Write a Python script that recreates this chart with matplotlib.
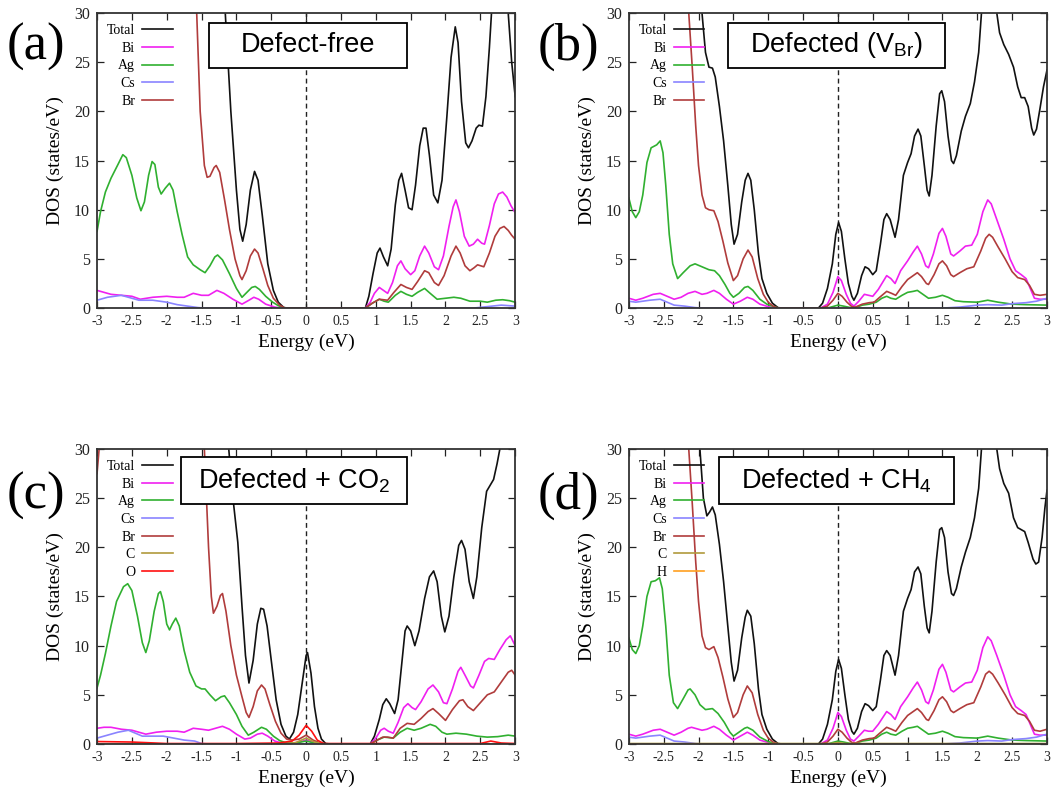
import matplotlib
matplotlib.use("Agg")
import matplotlib.pyplot as plt
from matplotlib.patches import Rectangle
from matplotlib.ticker import MultipleLocator, FuncFormatter

plt.rcParams['font.family'] = ['Liberation Serif', 'DejaVu Serif']
plt.rcParams['axes.unicode_minus'] = False
plt.rcParams['mathtext.fontset'] = 'custom'
plt.rcParams['mathtext.rm'] = 'Liberation Sans'

# (energy eV, DOS states/eV); >30 means off the top of the axes
A_TOTAL = [(-3.0, 60), (-1.3, 45), (-1.16, 30), (-1.08, 20), (-1.0, 12), (-0.95, 8.0), (-0.91, 6.8), (-0.86, 8.5),
           (-0.8, 12.0), (-0.74, 13.9), (-0.69, 13.0), (-0.63, 9.5), (-0.55, 4.5), (-0.47, 1.8), (-0.4, 0.6),
           (-0.32, 0.05), (-0.25, 0.0), (0.85, 0.0), (0.9, 1.2), (0.96, 3.5), (1.02, 5.6), (1.06, 6.1), (1.11, 5.2),
           (1.17, 4.3), (1.22, 6.0), (1.28, 10.5), (1.33, 13.0), (1.37, 13.7), (1.42, 12.0), (1.47, 10.2),
           (1.52, 10.0), (1.57, 12.5), (1.63, 16.5), (1.68, 18.3), (1.72, 18.3), (1.77, 15.5), (1.83, 11.5),
           (1.89, 10.7), (1.95, 13.0), (2.02, 19.5), (2.08, 25.5), (2.14, 28.6), (2.18, 27.0), (2.23, 21.0),
           (2.29, 16.8), (2.33, 16.3), (2.38, 17.0), (2.44, 18.3), (2.48, 18.6), (2.53, 18.5), (2.58, 21.5),
           (2.63, 26.5), (2.66, 30.0), (2.72, 38), (2.85, 38), (2.9, 30.0), (2.95, 25.0), (3.0, 21.5)]
A_BI = [(-3.0, 1.8), (-2.9, 1.6), (-2.8, 1.4), (-2.65, 1.3), (-2.5, 1.2), (-2.38, 0.9), (-2.2, 1.1), (-2.0, 1.2),
        (-1.85, 1.1), (-1.75, 1.1), (-1.62, 1.5), (-1.5, 1.3), (-1.4, 1.3), (-1.28, 1.8), (-1.18, 1.5),
        (-1.05, 0.9), (-0.92, 0.4), (-0.82, 0.8), (-0.75, 1.1), (-0.68, 0.9), (-0.58, 0.4), (-0.45, 0.1),
        (-0.35, 0.0), (0.85, 0.0), (0.92, 0.6), (0.98, 1.5), (1.05, 2.1), (1.11, 1.8), (1.17, 1.5), (1.24, 2.6),
        (1.31, 4.3), (1.36, 4.8), (1.42, 4.0), (1.5, 3.4), (1.56, 3.8), (1.63, 5.3), (1.7, 6.3), (1.76, 5.6),
        (1.84, 4.2), (1.9, 3.9), (1.97, 5.3), (2.05, 8.3), (2.11, 10.3), (2.15, 11.0), (2.2, 9.8), (2.27, 7.3),
        (2.34, 6.3), (2.4, 6.5), (2.46, 7.0), (2.52, 6.6), (2.56, 6.5), (2.63, 8.4), (2.7, 10.6), (2.76, 11.6),
        (2.82, 11.8), (2.88, 11.3), (2.94, 10.4), (3.0, 9.7)]
A_AG = [(-3.0, 7.8), (-2.95, 9.8), (-2.88, 11.8), (-2.8, 13.2), (-2.7, 14.6), (-2.63, 15.6), (-2.58, 15.3),
        (-2.5, 13.5), (-2.43, 11.2), (-2.37, 9.9), (-2.32, 10.8), (-2.26, 13.5), (-2.21, 14.9), (-2.17, 14.6),
        (-2.12, 12.3), (-2.08, 11.6), (-2.02, 12.2), (-1.96, 12.7), (-1.91, 12.0), (-1.85, 9.8), (-1.78, 7.5),
        (-1.7, 5.2), (-1.62, 4.4), (-1.52, 3.9), (-1.45, 3.6), (-1.38, 4.3), (-1.31, 5.2), (-1.27, 5.4),
        (-1.2, 4.9), (-1.1, 3.5), (-1.0, 2.0), (-0.92, 1.1), (-0.85, 1.6), (-0.78, 2.1), (-0.73, 2.2),
        (-0.67, 1.9), (-0.58, 1.2), (-0.48, 0.6), (-0.4, 0.25), (-0.3, 0.0), (0.85, 0.0), (0.95, 0.5),
        (1.05, 0.9), (1.12, 0.7), (1.18, 0.6), (1.28, 1.3), (1.36, 1.7), (1.44, 1.4), (1.52, 1.2), (1.6, 1.6),
        (1.7, 2.0), (1.78, 1.5), (1.88, 0.9), (2.0, 1.0), (2.12, 1.1), (2.22, 1.0), (2.35, 0.7), (2.5, 0.7),
        (2.6, 0.6), (2.72, 0.8), (2.82, 0.85), (2.92, 0.75), (3.0, 0.6)]
A_CS = [(-3.0, 0.8), (-2.85, 1.1), (-2.65, 1.3), (-2.5, 1.0), (-2.4, 0.8), (-2.2, 0.8), (-2.0, 0.6), (-1.85, 0.35),
        (-1.7, 0.2), (-1.55, 0.05), (-1.45, 0.0), (2.4, 0.0), (2.6, 0.15), (2.8, 0.3), (3.0, 0.2)]
A_BR = [(-3.0, 60), (-1.6, 40), (-1.57, 30), (-1.52, 20), (-1.46, 14.5), (-1.42, 13.3), (-1.38, 13.4),
        (-1.32, 14.3), (-1.29, 14.5), (-1.24, 13.8), (-1.17, 11.0), (-1.1, 8.0), (-1.02, 5.0), (-0.95, 3.3),
        (-0.92, 2.9), (-0.86, 3.8), (-0.8, 5.3), (-0.74, 6.0), (-0.69, 5.6), (-0.62, 4.0), (-0.55, 2.3),
        (-0.47, 1.0), (-0.38, 0.3), (-0.3, 0.0), (0.85, 0.0), (0.95, 0.5), (1.05, 0.9), (1.17, 0.8), (1.26, 1.6),
        (1.36, 2.4), (1.44, 2.1), (1.52, 1.9), (1.6, 2.7), (1.7, 3.8), (1.76, 3.6), (1.84, 2.6), (1.9, 2.3),
        (1.98, 3.3), (2.08, 5.3), (2.15, 6.3), (2.21, 5.6), (2.28, 4.3), (2.35, 3.8), (2.41, 4.1), (2.46, 4.4),
        (2.55, 4.2), (2.63, 5.6), (2.71, 7.3), (2.78, 8.1), (2.84, 8.3), (2.9, 7.9), (2.95, 7.4), (3.0, 7.0)]

B_TOTAL = [(-3.0, 60), (-2.0, 40), (-1.95, 30), (-1.9, 26.0), (-1.85, 24.5), (-1.8, 24.4), (-1.76, 23.5),
           (-1.7, 20.5), (-1.64, 17.0), (-1.58, 12.5), (-1.53, 8.5), (-1.49, 6.5), (-1.44, 7.5), (-1.38, 10.8),
           (-1.33, 13.0), (-1.29, 13.7), (-1.25, 13.0), (-1.2, 10.0), (-1.14, 5.5), (-1.09, 3.0), (-1.02, 1.5),
           (-0.94, 0.5), (-0.86, 0.05), (-0.8, 0.0), (-0.28, 0.0), (-0.22, 0.5), (-0.15, 2.0), (-0.08, 4.5),
           (-0.03, 7.5), (0.01, 8.7), (0.05, 7.8), (0.1, 5.0), (0.15, 2.5), (0.2, 1.2), (0.23, 0.8), (0.28, 1.5),
           (0.34, 3.3), (0.39, 4.2), (0.44, 4.0), (0.5, 3.4), (0.55, 3.8), (0.61, 6.5), (0.66, 9.0), (0.7, 9.6),
           (0.75, 9.0), (0.82, 7.2), (0.87, 9.0), (0.94, 13.5), (1.0, 14.8), (1.05, 15.7), (1.1, 17.5),
           (1.15, 18.2), (1.19, 17.5), (1.24, 14.5), (1.28, 12.0), (1.31, 11.4), (1.35, 13.5), (1.41, 18.5),
           (1.46, 21.8), (1.49, 22.1), (1.53, 21.0), (1.58, 17.5), (1.63, 15.0), (1.66, 14.7), (1.7, 15.5),
           (1.77, 18.0), (1.83, 19.5), (1.9, 20.8), (1.96, 23.0), (2.02, 26.0), (2.06, 30.0), (2.1, 36),
           (2.22, 38), (2.28, 30.0), (2.32, 28.0), (2.38, 26.8), (2.45, 25.8), (2.52, 24.5), (2.58, 22.5),
           (2.63, 21.4), (2.68, 21.4), (2.73, 20.5), (2.78, 18.3), (2.81, 17.6), (2.85, 18.2), (2.9, 20.3),
           (2.95, 22.5), (3.0, 24.2)]
B_BI = [(-3.0, 1.0), (-2.9, 0.8), (-2.8, 1.0), (-2.65, 1.4), (-2.55, 1.5), (-2.45, 1.2), (-2.35, 0.9),
        (-2.25, 1.1), (-2.15, 1.5), (-2.05, 1.7), (-1.95, 1.4), (-1.88, 1.5), (-1.78, 1.8), (-1.7, 1.5),
        (-1.6, 0.9), (-1.5, 0.4), (-1.4, 0.7), (-1.3, 1.1), (-1.22, 0.9), (-1.12, 0.4), (-1.0, 0.15), (-0.9, 0.0),
        (-0.25, 0.0), (-0.15, 0.4), (-0.07, 1.6), (0.0, 3.2), (0.05, 2.8), (0.12, 1.4), (0.18, 0.5), (0.23, 0.2),
        (0.3, 0.7), (0.38, 1.4), (0.44, 1.3), (0.5, 1.2), (0.58, 1.9), (0.7, 3.3), (0.76, 3.0), (0.82, 2.5),
        (0.9, 3.8), (1.0, 4.8), (1.08, 5.7), (1.14, 6.3), (1.2, 5.5), (1.26, 4.3), (1.3, 4.1), (1.37, 5.5),
        (1.45, 7.6), (1.5, 8.1), (1.55, 7.3), (1.62, 5.5), (1.66, 5.3), (1.75, 5.8), (1.83, 6.3), (1.92, 6.4),
        (2.0, 7.5), (2.08, 9.8), (2.15, 11.0), (2.2, 10.6), (2.28, 9.0), (2.38, 7.0), (2.47, 5.0), (2.55, 3.8),
        (2.63, 3.4), (2.7, 3.0), (2.76, 2.0), (2.82, 1.0), (2.9, 0.9), (3.0, 0.9)]
B_AG = [(-3.0, 11.2), (-2.95, 9.8), (-2.9, 9.2), (-2.85, 9.8), (-2.8, 11.5), (-2.74, 14.8), (-2.68, 16.3),
        (-2.6, 16.6), (-2.55, 17.0), (-2.51, 15.8), (-2.47, 12.5), (-2.42, 7.5), (-2.37, 4.5), (-2.3, 3.0),
        (-2.22, 3.6), (-2.12, 4.3), (-2.05, 4.5), (-1.95, 4.2), (-1.85, 3.9), (-1.77, 3.8), (-1.7, 3.3),
        (-1.62, 2.4), (-1.55, 1.5), (-1.5, 1.1), (-1.42, 1.5), (-1.34, 2.1), (-1.29, 2.2), (-1.22, 1.8),
        (-1.12, 0.9), (-1.02, 0.4), (-0.9, 0.1), (-0.85, 0.0), (-0.15, 0.0), (-0.05, 0.2), (0.0, 0.3),
        (0.08, 0.2), (0.18, 0.05), (0.25, 0.05), (0.35, 0.3), (0.45, 0.4), (0.55, 0.6), (0.63, 1.0), (0.7, 1.2),
        (0.76, 1.0), (0.83, 0.9), (0.92, 1.3), (1.0, 1.6), (1.08, 1.7), (1.14, 1.8), (1.2, 1.5), (1.3, 1.0),
        (1.4, 1.1), (1.5, 1.3), (1.58, 1.1), (1.68, 0.75), (1.8, 0.65), (2.0, 0.6), (2.15, 0.8), (2.3, 0.6),
        (2.5, 0.4), (2.7, 0.35), (3.0, 0.3)]
B_CS = [(-3.0, 0.7), (-2.9, 0.6), (-2.7, 0.8), (-2.55, 0.9), (-2.45, 0.6), (-2.35, 0.3), (-2.2, 0.2),
        (-2.05, 0.05), (-1.95, 0.0), (1.5, 0.0), (1.75, 0.1), (2.0, 0.3), (2.15, 0.35), (2.35, 0.3), (2.5, 0.45),
        (2.7, 0.55), (2.85, 0.7), (3.0, 1.0)]
B_BR = [(-3.0, 60), (-2.2, 40), (-2.14, 30), (-2.09, 24.5), (-2.04, 18.5), (-2.0, 14.5), (-1.95, 11.5),
        (-1.9, 10.2), (-1.85, 10.0), (-1.78, 9.9), (-1.72, 8.8), (-1.65, 6.8), (-1.58, 4.6), (-1.5, 2.8),
        (-1.44, 3.3), (-1.36, 5.0), (-1.29, 5.9), (-1.23, 5.2), (-1.15, 3.0), (-1.07, 1.4), (-1.0, 0.6),
        (-0.92, 0.15), (-0.85, 0.0), (-0.25, 0.0), (-0.15, 0.2), (-0.07, 0.8), (0.0, 1.5), (0.06, 1.2),
        (0.13, 0.6), (0.2, 0.15), (0.25, 0.1), (0.35, 0.4), (0.45, 0.55), (0.52, 0.6), (0.6, 1.1), (0.7, 1.7),
        (0.77, 1.5), (0.83, 1.3), (0.92, 2.2), (1.0, 2.9), (1.08, 3.3), (1.14, 3.6), (1.2, 3.2), (1.27, 2.5),
        (1.3, 2.4), (1.38, 3.4), (1.45, 4.5), (1.5, 4.8), (1.56, 4.3), (1.62, 3.4), (1.66, 3.2), (1.75, 3.6),
        (1.85, 4.0), (1.95, 4.2), (2.05, 5.8), (2.12, 7.1), (2.17, 7.5), (2.22, 7.2), (2.3, 6.2), (2.4, 5.0),
        (2.5, 3.7), (2.58, 3.1), (2.68, 2.9), (2.75, 2.3), (2.82, 1.4), (2.9, 1.3), (3.0, 1.4)]

C_TOTAL = [(-3.0, 60), (-1.2, 45), (-1.11, 30), (-1.05, 25.0), (-0.98, 20.5), (-0.92, 14.0), (-0.87, 9.0),
           (-0.82, 6.2), (-0.76, 8.5), (-0.7, 12.2), (-0.65, 13.8), (-0.61, 13.7), (-0.56, 12.0), (-0.5, 8.5),
           (-0.43, 4.5), (-0.36, 2.0), (-0.29, 0.8), (-0.24, 0.5), (-0.18, 1.2), (-0.12, 3.0), (-0.06, 6.0),
           (0.0, 9.0), (0.02, 9.3), (0.07, 7.2), (0.12, 3.8), (0.17, 1.6), (0.22, 0.5), (0.28, 0.05), (0.35, 0.0),
           (0.92, 0.0), (0.98, 0.8), (1.05, 2.5), (1.1, 4.0), (1.15, 4.6), (1.2, 4.1), (1.27, 3.1), (1.32, 4.5),
           (1.37, 8.0), (1.42, 11.5), (1.45, 12.0), (1.5, 11.5), (1.56, 10.0), (1.62, 11.5), (1.7, 14.8),
           (1.77, 17.0), (1.83, 17.6), (1.88, 16.5), (1.94, 13.0), (1.99, 11.4), (2.05, 13.0), (2.12, 17.0),
           (2.19, 20.2), (2.23, 20.7), (2.28, 19.8), (2.34, 16.5), (2.4, 14.8), (2.45, 17.0), (2.52, 22.0),
           (2.59, 25.7), (2.64, 26.3), (2.69, 26.9), (2.74, 28.5), (2.78, 30.0), (2.85, 34), (3.0, 40)]
C_BI = [(-3.0, 1.6), (-2.9, 1.7), (-2.8, 1.7), (-2.65, 1.5), (-2.5, 1.4), (-2.4, 1.2), (-2.3, 1.0), (-2.15, 1.2),
        (-2.0, 1.3), (-1.85, 1.3), (-1.75, 1.2), (-1.62, 1.6), (-1.5, 1.5), (-1.4, 1.4), (-1.3, 1.6), (-1.2, 1.8),
        (-1.1, 1.5), (-1.0, 1.0), (-0.88, 0.5), (-0.8, 0.6), (-0.7, 1.0), (-0.63, 1.1), (-0.55, 0.8),
        (-0.45, 0.3), (-0.35, 0.1), (-0.25, 0.05), (-0.12, 0.15), (0.0, 0.4), (0.12, 0.15), (0.25, 0.0),
        (0.92, 0.0), (1.0, 0.6), (1.07, 1.4), (1.12, 1.6), (1.18, 1.3), (1.25, 1.1), (1.32, 2.2), (1.4, 3.7),
        (1.46, 4.1), (1.52, 3.7), (1.57, 3.5), (1.65, 4.3), (1.75, 5.6), (1.82, 6.0), (1.9, 5.3), (1.97, 4.2),
        (2.02, 4.1), (2.1, 5.6), (2.18, 7.4), (2.22, 7.8), (2.28, 7.0), (2.36, 5.9), (2.4, 5.7), (2.48, 7.0),
        (2.56, 8.4), (2.62, 8.7), (2.7, 8.6), (2.78, 9.6), (2.87, 10.6), (2.93, 11.0), (3.0, 10.0)]
C_AG = [(-3.0, 5.7), (-2.95, 7.0), (-2.88, 9.2), (-2.8, 12.0), (-2.72, 14.5), (-2.62, 16.0), (-2.56, 16.3),
        (-2.5, 15.6), (-2.42, 13.0), (-2.35, 10.3), (-2.3, 9.3), (-2.25, 10.5), (-2.18, 13.5), (-2.12, 15.3),
        (-2.09, 15.5), (-2.05, 14.5), (-2.0, 12.2), (-1.96, 11.6), (-1.92, 12.2), (-1.87, 12.8), (-1.82, 12.0),
        (-1.75, 9.5), (-1.67, 7.3), (-1.58, 5.9), (-1.5, 5.6), (-1.45, 5.6), (-1.38, 5.0), (-1.3, 4.4),
        (-1.22, 4.8), (-1.17, 4.9), (-1.1, 4.2), (-1.0, 3.0), (-0.92, 1.8), (-0.83, 0.9), (-0.75, 1.2),
        (-0.64, 1.7), (-0.57, 1.5), (-0.47, 0.8), (-0.38, 0.35), (-0.28, 0.1), (-0.15, 0.1), (0.0, 0.3),
        (0.12, 0.1), (0.25, 0.0), (0.92, 0.0), (1.02, 0.4), (1.12, 0.7), (1.25, 0.6), (1.35, 1.2), (1.45, 1.6),
        (1.55, 1.4), (1.65, 1.6), (1.78, 2.0), (1.86, 1.8), (1.95, 1.2), (2.02, 1.0), (2.15, 1.1), (2.3, 1.0),
        (2.45, 0.8), (2.6, 0.7), (2.75, 0.75), (2.9, 0.9), (3.0, 0.8)]
C_CS = [(-3.0, 0.6), (-2.85, 0.9), (-2.7, 1.2), (-2.55, 1.4), (-2.45, 1.1), (-2.35, 0.8), (-2.2, 0.8),
        (-2.05, 0.8), (-1.9, 0.6), (-1.75, 0.4), (-1.6, 0.3), (-1.5, 0.05), (-1.4, 0.0), (3.0, 0.0)]
C_BR = [(-3.0, 27.5), (-2.97, 30.0), (-2.9, 40), (-1.6, 40), (-1.46, 30.0), (-1.4, 20.0), (-1.36, 15.0),
        (-1.33, 13.3), (-1.28, 14.0), (-1.23, 15.1), (-1.2, 15.3), (-1.15, 13.5), (-1.08, 10.0), (-1.0, 7.0),
        (-0.92, 4.8), (-0.86, 3.2), (-0.82, 2.7), (-0.76, 3.8), (-0.7, 5.4), (-0.64, 6.0), (-0.59, 5.6),
        (-0.52, 4.0), (-0.44, 2.3), (-0.36, 1.1), (-0.28, 0.5), (-0.2, 0.4), (-0.1, 0.5), (0.0, 0.9), (0.1, 0.4),
        (0.2, 0.1), (0.3, 0.0), (0.92, 0.0), (1.02, 0.4), (1.1, 0.7), (1.17, 0.7), (1.25, 0.6), (1.35, 1.6),
        (1.45, 2.1), (1.55, 2.0), (1.65, 2.6), (1.75, 3.3), (1.82, 3.6), (1.9, 3.1), (2.0, 2.4), (2.1, 3.5),
        (2.2, 4.4), (2.25, 4.5), (2.32, 3.8), (2.4, 3.4), (2.5, 4.2), (2.6, 5.0), (2.7, 5.3), (2.8, 6.3),
        (2.9, 7.3), (2.95, 7.5), (3.0, 7.0)]
C_C = [(-3.0, 0.0), (-0.3, 0.0), (-0.15, 0.15), (0.0, 0.6), (0.12, 0.2), (0.25, 0.0), (3.0, 0.0)]
C_O = [(-3.0, 0.25), (-2.5, 0.2), (-2.0, 0.05), (-1.0, 0.05), (-0.4, 0.1), (-0.2, 0.3), (-0.1, 0.9), (0.0, 1.9),
       (0.08, 1.3), (0.16, 0.4), (0.25, 0.05), (2.5, 0.05), (2.65, 0.3), (2.8, 0.1), (3.0, 0.05)]

D_TOTAL = [(-3.0, 60), (-2.05, 40), (-1.98, 30.0), (-1.93, 25.0), (-1.88, 23.2), (-1.84, 23.6), (-1.8, 24.1),
           (-1.76, 23.3), (-1.7, 20.3), (-1.64, 16.5), (-1.58, 12.0), (-1.53, 8.3), (-1.49, 6.4), (-1.44, 7.5),
           (-1.38, 10.8), (-1.33, 12.9), (-1.3, 13.6), (-1.25, 13.0), (-1.2, 10.2), (-1.14, 5.6), (-1.09, 3.0),
           (-1.02, 1.5), (-0.94, 0.5), (-0.86, 0.05), (-0.8, 0.0), (-0.28, 0.0), (-0.22, 0.5), (-0.15, 2.0),
           (-0.08, 4.5), (-0.03, 7.4), (0.01, 8.6), (0.05, 7.7), (0.1, 5.0), (0.15, 2.5), (0.2, 1.3), (0.23, 1.0),
           (0.28, 1.6), (0.34, 3.3), (0.39, 4.1), (0.44, 3.9), (0.5, 3.4), (0.55, 3.8), (0.61, 6.5), (0.66, 9.0),
           (0.7, 9.5), (0.75, 9.0), (0.82, 7.0), (0.87, 9.0), (0.94, 13.5), (1.0, 14.8), (1.05, 15.7),
           (1.1, 17.5), (1.15, 18.0), (1.19, 17.3), (1.24, 14.0), (1.28, 11.8), (1.31, 11.3), (1.35, 13.5),
           (1.41, 18.5), (1.46, 21.8), (1.49, 22.0), (1.53, 21.0), (1.58, 17.5), (1.63, 15.3), (1.66, 15.1),
           (1.7, 15.8), (1.77, 18.0), (1.83, 19.5), (1.9, 21.0), (1.96, 23.0), (2.02, 26.0), (2.06, 30.0),
           (2.1, 36), (2.24, 38), (2.28, 30.0), (2.32, 28.0), (2.38, 26.5), (2.45, 25.5), (2.52, 23.0),
           (2.58, 22.0), (2.63, 21.8), (2.68, 21.6), (2.73, 20.5), (2.8, 18.8), (2.84, 18.3), (2.88, 18.5),
           (2.93, 21.0), (2.97, 24.0), (3.0, 25.8)]
D_BI = [(-3.0, 1.0), (-2.9, 0.8), (-2.8, 1.0), (-2.65, 1.4), (-2.55, 1.5), (-2.45, 1.2), (-2.35, 0.9),
        (-2.25, 1.2), (-2.15, 1.6), (-2.1, 1.7), (-1.95, 1.4), (-1.88, 1.5), (-1.78, 1.8), (-1.7, 1.5),
        (-1.6, 0.9), (-1.5, 0.4), (-1.4, 0.8), (-1.3, 1.2), (-1.22, 0.9), (-1.12, 0.4), (-1.0, 0.15), (-0.9, 0.0),
        (-0.25, 0.0), (-0.15, 0.4), (-0.07, 1.6), (0.0, 3.2), (0.05, 2.8), (0.12, 1.4), (0.18, 0.5), (0.23, 0.3),
        (0.3, 0.8), (0.38, 1.4), (0.44, 1.3), (0.5, 1.3), (0.58, 2.0), (0.7, 3.3), (0.76, 3.0), (0.82, 2.5),
        (0.9, 3.8), (1.0, 4.8), (1.08, 5.7), (1.14, 6.3), (1.2, 5.5), (1.26, 4.3), (1.3, 4.1), (1.37, 5.5),
        (1.45, 7.6), (1.5, 8.1), (1.55, 7.3), (1.62, 5.5), (1.66, 5.3), (1.75, 5.8), (1.83, 6.2), (1.92, 6.3),
        (2.0, 7.5), (2.08, 9.8), (2.15, 10.9), (2.2, 10.5), (2.28, 9.0), (2.38, 7.0), (2.47, 5.0), (2.55, 3.8),
        (2.63, 3.4), (2.7, 3.0), (2.76, 2.0), (2.82, 1.0), (2.9, 0.9), (3.0, 0.9)]
D_AG = [(-3.0, 10.8), (-2.95, 9.6), (-2.9, 9.2), (-2.85, 10.0), (-2.8, 12.0), (-2.74, 15.0), (-2.68, 16.5),
        (-2.62, 16.6), (-2.56, 16.9), (-2.52, 15.8), (-2.47, 12.0), (-2.42, 7.0), (-2.36, 4.2), (-2.3, 3.6),
        (-2.22, 4.6), (-2.15, 5.5), (-2.12, 5.6), (-2.05, 5.0), (-1.98, 4.0), (-1.9, 3.5), (-1.8, 3.6),
        (-1.72, 3.1), (-1.63, 2.2), (-1.55, 1.2), (-1.5, 0.8), (-1.42, 1.2), (-1.34, 1.6), (-1.3, 1.7),
        (-1.22, 1.4), (-1.12, 0.7), (-1.0, 0.25), (-0.9, 0.05), (-0.85, 0.0), (-0.15, 0.0), (-0.05, 0.2),
        (0.0, 0.3), (0.08, 0.2), (0.18, 0.05), (0.25, 0.05), (0.35, 0.3), (0.45, 0.4), (0.55, 0.6), (0.63, 1.0),
        (0.7, 1.2), (0.76, 1.0), (0.83, 0.9), (0.92, 1.3), (1.0, 1.6), (1.08, 1.7), (1.14, 1.8), (1.2, 1.5),
        (1.3, 1.0), (1.4, 1.1), (1.5, 1.3), (1.58, 1.1), (1.68, 0.75), (1.8, 0.65), (2.0, 0.6), (2.15, 0.8),
        (2.3, 0.6), (2.5, 0.4), (2.7, 0.35), (3.0, 0.3)]
D_CS = [(-3.0, 0.7), (-2.9, 0.6), (-2.7, 0.8), (-2.55, 0.9), (-2.45, 0.6), (-2.35, 0.3), (-2.2, 0.2),
        (-2.05, 0.05), (-1.95, 0.0), (1.5, 0.0), (1.75, 0.1), (2.0, 0.3), (2.15, 0.35), (2.35, 0.3), (2.5, 0.45),
        (2.7, 0.55), (2.85, 0.7), (3.0, 1.0)]
D_BR = [(-3.0, 60), (-2.2, 40), (-2.14, 30), (-2.09, 24.5), (-2.04, 18.5), (-2.0, 14.5), (-1.95, 11.0),
        (-1.9, 9.8), (-1.85, 9.6), (-1.78, 9.9), (-1.72, 8.8), (-1.65, 6.8), (-1.58, 4.6), (-1.5, 2.7),
        (-1.44, 3.2), (-1.36, 5.0), (-1.3, 5.9), (-1.23, 5.2), (-1.15, 3.0), (-1.07, 1.4), (-1.0, 0.6),
        (-0.92, 0.15), (-0.85, 0.0), (-0.25, 0.0), (-0.15, 0.2), (-0.07, 0.8), (0.0, 1.5), (0.06, 1.2),
        (0.13, 0.6), (0.2, 0.15), (0.25, 0.1), (0.35, 0.4), (0.45, 0.55), (0.52, 0.6), (0.6, 1.1), (0.7, 1.7),
        (0.77, 1.5), (0.83, 1.3), (0.92, 2.2), (1.0, 2.9), (1.08, 3.3), (1.14, 3.6), (1.2, 3.2), (1.27, 2.5),
        (1.3, 2.4), (1.38, 3.4), (1.45, 4.5), (1.5, 4.8), (1.56, 4.3), (1.62, 3.4), (1.66, 3.2), (1.75, 3.6),
        (1.85, 4.0), (1.95, 4.2), (2.05, 5.8), (2.12, 7.1), (2.17, 7.4), (2.22, 7.1), (2.3, 6.2), (2.4, 5.0),
        (2.5, 3.7), (2.58, 3.1), (2.68, 2.9), (2.75, 2.3), (2.82, 1.4), (2.9, 1.3), (3.0, 1.5)]
D_C = [(-3.0, 0.05), (-0.1, 0.05), (0.0, 0.15), (0.1, 0.05), (3.0, 0.05)]
D_H = [(-3.0, 0.02), (3.0, 0.02)]

COLORS = {'Total': '#111111', 'Bi': '#f020f0', 'Ag': '#30b030', 'Cs': '#8a84ff', 'Br': '#b03c3c',
          'C': '#b09a3c', 'O': '#ff1010', 'H': '#ffa020'}

PANELS = [
    ('(a)', 'Defect-free', [('Total', A_TOTAL), ('Bi', A_BI), ('Ag', A_AG), ('Cs', A_CS), ('Br', A_BR)]),
    ('(b)', 'Defected (V$_{\\mathrm{Br}}$)', [('Total', B_TOTAL), ('Bi', B_BI), ('Ag', B_AG), ('Cs', B_CS), ('Br', B_BR)]),
    ('(c)', 'Defected + CO$_{\\mathrm{2}}$', [('Total', C_TOTAL), ('Bi', C_BI), ('Ag', C_AG), ('Cs', C_CS), ('Br', C_BR),
                                  ('C', C_C), ('O', C_O)]),
    ('(d)', 'Defected + CH$_{\\mathrm{4}}$', [('Total', D_TOTAL), ('Bi', D_BI), ('Ag', D_AG), ('Cs', D_CS), ('Br', D_BR),
                                  ('C', D_C), ('H', D_H)]),
]

# axes rectangles in figure fractions and title boxes in axes fractions
AX_RECTS = [(0.0912, 0.611, 0.393, 0.3725), (0.591, 0.611, 0.393, 0.3725),
            (0.0912, 0.0606, 0.393, 0.3725), (0.591, 0.0606, 0.393, 0.3725)]
BOXES = [(0.268, 0.814, 0.474, 0.153), (0.237, 0.814, 0.519, 0.153),
         (0.201, 0.814, 0.541, 0.159), (0.215, 0.814, 0.562, 0.159)]
LABEL_POS = [(0.034, 0.941), (0.534, 0.941), (0.034, 0.374), (0.534, 0.374)]


def fmt(v, pos):
    return f'{v:g}'


fig = plt.figure(figsize=(10.64, 7.92), dpi=100)

for rect, box, lpos, (tag, title, series) in zip(AX_RECTS, BOXES, LABEL_POS, PANELS):
    ax = fig.add_axes(rect)
    ax.axvline(0, color='#222222', ls='--', lw=1.0, dashes=(3.5, 2.5), zorder=1)
    for name, pts in series:
        xs = [p[0] for p in pts]
        ys = [p[1] for p in pts]
        ax.plot(xs, ys, color=COLORS[name], lw=1.2, label=name, zorder=2)

    ax.set_xlim(-3, 3)
    ax.set_ylim(0, 30)
    ax.xaxis.set_major_locator(MultipleLocator(0.5))
    ax.yaxis.set_major_locator(MultipleLocator(5))
    ax.xaxis.set_major_formatter(FuncFormatter(fmt))
    ax.tick_params(direction='in', top=True, right=True, length=5, width=0.9, pad=5, colors='#222222')
    ax.tick_params(axis='x', labelsize=10)
    ax.tick_params(axis='y', labelsize=11.5)
    for sp in ax.spines.values():
        sp.set_linewidth(1.3)
        sp.set_color('#333333')
    ax.set_xlabel('Energy (eV)', fontsize=14, labelpad=4)
    ax.set_ylabel('DOS (states/eV)', fontsize=14, labelpad=7)

    leg = ax.legend(loc='upper left', bbox_to_anchor=(0.0, 0.995), frameon=False, markerfirst=False,
                    handlelength=2.2, handletextpad=0.5, labelspacing=0.33, fontsize=10, borderaxespad=0.3)
    leg.set_zorder(5)

    ax.add_patch(Rectangle((box[0], box[1]), box[2], box[3], transform=ax.transAxes, facecolor='white',
                           edgecolor='black', lw=1.3, zorder=6))
    ax.text(box[0] + box[2] / 2, box[1] + box[3] / 2, title, transform=ax.transAxes, ha='center',
            va='center', fontsize=19.5, family='Liberation Sans', zorder=7)

    fig.text(lpos[0], lpos[1], tag, ha='center', va='center', fontsize=38)

fig.savefig('out.png', dpi=100)
